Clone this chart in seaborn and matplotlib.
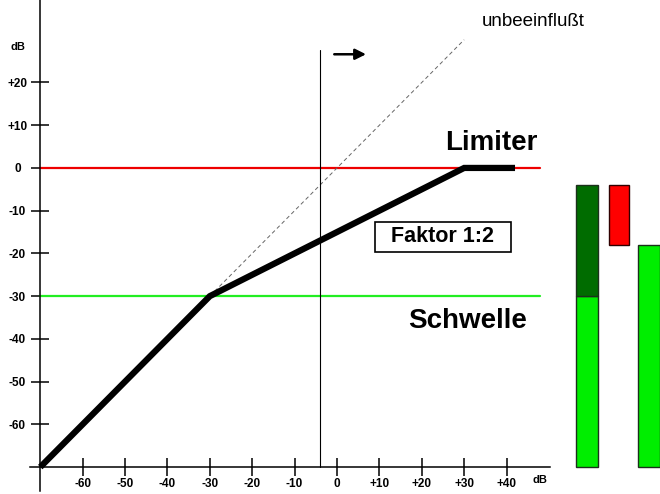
import numpy as np
import pandas as pd
import matplotlib
matplotlib.use('Agg')
import matplotlib.pyplot as plt
import seaborn as sns

# transfer curve of the limiter (input dB -> output dB)
curve_in = [-70, -30, 30, 42]
curve_out = [-70, -30, 0, 0]
unity_in = [-30, 30]          # dashed 1:1 line, "unbeeinflusst"
limit_db = 0
threshold_db = -30
line_x = [-70, 48]
level_in = -4                 # current input level
level_out = -18               # output level
bottom_db = -70

xticks = [-60, -50, -40, -30, -20, -10, 0, 10, 20, 30, 40]
xlabels = ['-60', '-50', '-40', '-30', '-20', '-10', '0', '+10', '+20', '+30', '+40']
yticks = [20, 10, 0, -10, -20, -30, -40, -50, -60]
ylabels = ['+20', '+10', '0', '-10', '-20', '-30', '-40', '-50', '-60']

sns.set_style('white')
plt.rcParams['font.family'] = ['Liberation Sans', 'DejaVu Sans']
plt.rcParams['text.color'] = 'black'

fig = plt.figure(figsize=(6.6, 4.94), dpi=100)
ax = fig.add_axes([0, 0, 1, 1])
ax.set_xlim(-79.5, 76.2)
ax.set_ylim(-76.3, 39.3)

# axes as crossing spines at -70/-70
for s in ['top', 'right']:
    ax.spines[s].set_visible(False)
ax.spines['left'].set_position(('data', bottom_db))
ax.spines['bottom'].set_position(('data', bottom_db))
ax.spines['left'].set_bounds(-75.5, 39.3)
ax.spines['bottom'].set_bounds(-72.4, 50.3)
for s in ['left', 'bottom']:
    ax.spines[s].set_linewidth(1.1)
    ax.spines[s].set_color('black')

ax.set_xticks(xticks, xlabels)
ax.set_yticks(yticks, ylabels)
ax.tick_params(axis='both', direction='inout', length=13, width=1.1, color='black',
               labelsize=8.5, labelcolor='black', bottom=True, left=True)
ax.tick_params(axis='y', pad=10)
ax.tick_params(axis='x', pad=1.5)
for lab in ax.get_yticklabels():
    lab.set_horizontalalignment('center')
    lab.set_fontweight('bold')
for lab in ax.get_xticklabels():
    lab.set_fontweight('bold')

# reference lines
sns.lineplot(x=line_x, y=[limit_db, limit_db], ax=ax, color='#ee0000', lw=1.6)
sns.lineplot(x=line_x, y=[threshold_db, threshold_db], ax=ax, color='#22ee22', lw=1.6)
ax.plot(unity_in, unity_in, color='#666666', lw=0.7, dashes=(4, 3))

# characteristic
sns.lineplot(x=curve_in, y=curve_out, ax=ax, color='black', lw=4.5, sort=False,
             estimator=None, solid_capstyle='butt', solid_joinstyle='miter')

# input level marker
ax.plot([level_in, level_in], [bottom_db, 27.5], color='black', lw=0.8)
ax.annotate('', xy=(7.5, 26.6), xytext=(-1.3, 26.6),
            arrowprops=dict(arrowstyle='-|>', lw=1.8, color='black', mutation_scale=16))

# level meters
edge = '#1c301c'
ax.bar(59, threshold_db - bottom_db, bottom=bottom_db, width=5.2, color='#00ee00',
       edgecolor=edge, lw=1)
ax.bar(59, level_in - threshold_db, bottom=threshold_db, width=5.2, color='#006c00',
       edgecolor=edge, lw=1)
ax.bar(66.5, level_in - level_out, bottom=level_out, width=4.8, color='#ff0000',
       edgecolor='#300000', lw=1)
ax.bar(73.6, level_out - bottom_db, bottom=bottom_db, width=5.0, color='#00ee00',
       edgecolor=edge, lw=1)

# labels
ax.text(47.4, 5.8, 'Limiter', ha='right', va='center', fontsize=20, fontweight='bold',
        color='black')
ax.text(44.8, -35.8, 'Schwelle', ha='right', va='center', fontsize=20, fontweight='bold',
        color='black')
ax.text(25, -16.1, '  Faktor 1:2  ', ha='center', va='center', fontsize=15.5,
        fontweight='bold', color='black',
        bbox=dict(boxstyle='square,pad=0.22', facecolor='white', edgecolor='black', lw=1.2))
ax.text(46.3, 34.2, 'unbeeinflußt', ha='center', va='center', fontsize=13.5, color='black')
ax.text(-75.2, 28.3, 'dB', ha='center', va='center', fontsize=8, fontweight='bold',
        color='black')
ax.text(47.8, -73, 'dB', ha='center', va='center', fontsize=8, fontweight='bold',
        color='black')

fig.savefig('out.png', dpi=100)
